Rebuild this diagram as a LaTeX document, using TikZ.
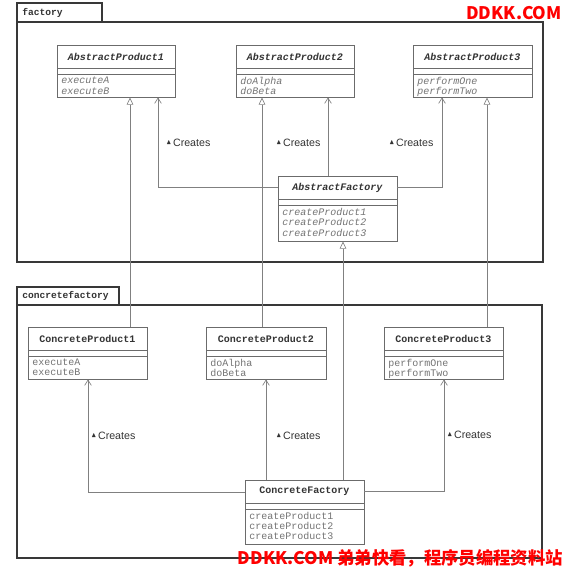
\documentclass[tikz,border=0pt]{standalone}
\usepackage{amssymb}
\usepackage{fontspec}
\setmainfont{Liberation Sans}
\setsansfont{Liberation Sans}
\setmonofont{Liberation Mono}
\newfontfamily\cjk{Noto Sans CJK SC}
\usetikzlibrary{arrows.meta,fit}

\definecolor{boxgray}{gray}{0.42}
\definecolor{linegray}{gray}{0.5}
\definecolor{framegray}{gray}{0.22}
\definecolor{textdark}{gray}{0.2}
\definecolor{opsgray}{gray}{0.45}

% one class box: name, left, top, right, bottom, kind, title, operations
\newcommand{\umlclass}[8]{%
  \node[classbox, fit={(#2,#3) (#4,#5)}] (#1) {};
  \draw[classbox] (#2,#3+23) -- (#4,#3+23) (#2,#3+29) -- (#4,#3+29);
  \node[#6title] (#1-name) at ({(#2+#4)/2},#3+11.5) {#7};
  \node[#6ops, anchor=north west] (#1-ops) at (#2+4,#3+31.5) {#8};
}
\newcommand{\createsmark}{\raisebox{0.3ex}{\scalebox{0.65}{$\blacktriangle$}}\,Creates}

\begin{document}
\begin{tikzpicture}[x=0.75pt, y=-0.75pt]
    % --- 样式 ---
    \tikzstyle{classbox}=[draw=boxgray, line width=0.6pt, inner sep=0pt]
    \tikzstyle{pkgframe}=[draw=framegray, line width=1.1pt, inner sep=0pt]
    \tikzstyle{pkglabel}=[font=\fontsize{7.2}{8}\selectfont\ttfamily\bfseries, text=textdark, anchor=west, inner sep=0pt]
    \tikzstyle{abstracttitle}=[font=\fontsize{7.5}{9}\selectfont\ttfamily\bfseries\itshape, text=textdark]
    \tikzstyle{concretetitle}=[font=\fontsize{7.5}{9}\selectfont\ttfamily\bfseries, text=textdark]
    \tikzstyle{abstractops}=[font=\fontsize{7.5}{8}\selectfont\ttfamily\itshape, text=opsgray, align=left, inner sep=0pt]
    \tikzstyle{concreteops}=[font=\fontsize{7.5}{7.7}\selectfont\ttfamily, text=opsgray, align=left, inner sep=0pt]
    \tikzstyle{inherit}=[draw=linegray, line width=0.5pt, -{Triangle[open, length=5.5pt, width=5pt]}]
    \tikzstyle{creates}=[draw=linegray, line width=0.5pt, -{Straight Barb[length=4pt, width=5pt]}]
    \tikzstyle{createslabel}=[font=\fontsize{8}{9}\selectfont\sffamily, text=textdark, anchor=west, inner sep=0pt]
    \tikzstyle{watermark}=[font=\fontsize{13}{15}\selectfont\cjk\bfseries, text=red, inner sep=0pt, anchor=east]

    \useasboundingbox (0,0) rectangle (565,568);

    % 1. 包 (package) 外框与标签
    \node[pkgframe, fit={(17,22) (543,262)}] (factory) {};
    \node[pkgframe, fit={(17,3) (102,22)}] (factory-tab) {};
    \node[pkglabel] (factory-name) at (22,12.5) {factory};
    \node[pkgframe, fit={(17,305) (542,558)}] (concretefactory) {};
    \node[pkgframe, fit={(17,287) (119,305)}] (concretefactory-tab) {};
    \node[pkglabel] (concretefactory-name) at (22,296) {concretefactory};

    % 2. 抽象类
    \umlclass{ap1}{57}{45}{175}{97}{abstract}{AbstractProduct1}{executeA\\executeB}
    \umlclass{ap2}{236}{45}{354}{97}{abstract}{AbstractProduct2}{doAlpha\\doBeta}
    \umlclass{ap3}{413}{45}{532}{97}{abstract}{AbstractProduct3}{performOne\\performTwo}
    \umlclass{af}{278}{176}{397}{241}{abstract}{AbstractFactory}{createProduct1\\createProduct2\\createProduct3}

    % 3. 具体类
    \umlclass{cp1}{28}{327}{147}{379}{concrete}{ConcreteProduct1}{executeA\\executeB}
    \umlclass{cp2}{206}{327}{326}{379}{concrete}{ConcreteProduct2}{doAlpha\\doBeta}
    \umlclass{cp3}{384}{327}{503}{379}{concrete}{ConcreteProduct3}{performOne\\performTwo}
    \umlclass{cf}{245}{480}{364}{544}{concrete}{ConcreteFactory}{createProduct1\\createProduct2\\createProduct3}

    % 4. 继承 (空心三角)
    \draw[inherit] (130,0 |- cp1.north) -- (130,0 |- ap1.south);
    \draw[inherit] (262,0 |- cp2.north) -- (262,0 |- ap2.south);
    \draw[inherit] (487,0 |- cp3.north) -- (487,0 |- ap3.south);
    \draw[inherit] (343,0 |- cf.north) -- (343,0 |- af.south);

    % 5. Creates 关系
    \draw[creates] (af.west |- 0,187) -| (158,0 |- ap1.south);
    \draw[creates] (af.north -| 328,0) -- (328,0 |- ap2.south);
    \draw[creates] (af.east |- 0,187) -| (442,0 |- ap3.south);
    \draw[creates] (cf.west |- 0,492) -| (88,0 |- cp1.south);
    \draw[creates] (cf.north -| 266,0) -- (266,0 |- cp2.south);
    \draw[creates] (cf.east |- 0,491) -| (444,0 |- cp3.south);

    \node[createslabel] (lbl-ap1) at (166,143) {\createsmark};
    \node[createslabel] (lbl-ap2) at (276,143) {\createsmark};
    \node[createslabel] (lbl-ap3) at (389,143) {\createsmark};
    \node[createslabel] (lbl-cp1) at (91,436) {\createsmark};
    \node[createslabel] (lbl-cp2) at (276,436) {\createsmark};
    \node[createslabel] (lbl-cp3) at (447,435) {\createsmark};

    % 6. 水印
    \node[watermark] (mark-top) at (562,13) {DDKK.COM};
    \node[watermark] (mark-bottom) at (563,558) {DDKK.COM 弟弟快看，程序员编程资料站};
\end{tikzpicture}
\end{document}
